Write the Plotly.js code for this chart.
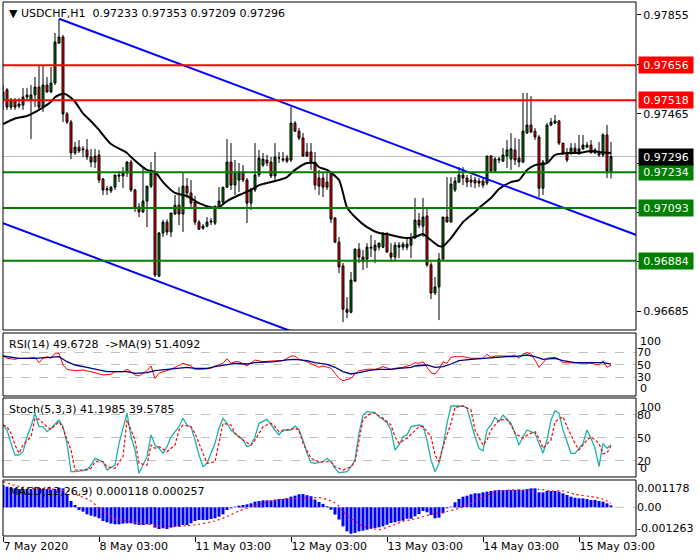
<!DOCTYPE html>
<html><head><meta charset="utf-8">
<script src="https://cdn.plot.ly/plotly-3.0.1.min.js"></script>
<style>html,body{margin:0;padding:0;background:#fff}#chart{width:700px;height:560px}</style>
</head><body><div id="chart"></div>
<script>
// ---------- data (USDCHF H1) ----------
const tickIdx = [0, 24, 48, 72, 96, 120, 144];
const tickText = ['7 May 2020', '8 May 03:00', '11 May 03:00', '12 May 03:00', '13 May 03:00', '14 May 03:00', '15 May 03:00'];

const opens = [
0.97519,0.97559,0.97491,0.97515,0.97495,0.97499,0.97531,0.97519,0.97539,0.97570,
0.97491,0.97578,0.97551,0.97586,0.97744,0.97768,0.97464,0.97432,0.97310,0.97333,
0.97322,0.97322,0.97294,0.97274,0.97302,0.97207,0.97164,0.97160,0.97175,0.97223,
0.97219,0.97231,0.97274,0.97164,0.97097,0.97077,0.97120,0.97179,0.97231,0.96824,
0.96994,0.97037,0.96998,0.97069,0.97104,0.97069,0.97179,0.97152,0.97116,0.97037,
0.97013,0.97021,0.97037,0.97033,0.97097,0.97116,0.97175,0.97274,0.97183,0.97203,
0.97235,0.97203,0.97112,0.97164,0.97223,0.97262,0.97282,0.97274,0.97219,0.97290,
0.97282,0.97290,0.97282,0.97428,0.97396,0.97369,0.97314,0.97314,0.97274,0.97211,
0.97211,0.97195,0.97231,0.97053,0.96958,0.96864,0.96693,0.96681,0.96804,0.96930,
0.96899,0.96891,0.96934,0.96926,0.96938,0.96938,0.96990,0.96915,0.96899,0.96938,
0.96938,0.96938,0.96946,0.96974,0.97045,0.97021,0.97061,0.96868,0.96757,0.96781,
0.96891,0.97057,0.97037,0.97164,0.97195,0.97223,0.97211,0.97203,0.97203,0.97199,
0.97199,0.97191,0.97298,0.97239,0.97282,0.97278,0.97298,0.97286,0.97322,0.97290,
0.97274,0.97389,0.97420,0.97396,0.97373,0.97171,0.97274,0.97420,0.97428,0.97436,
0.97349,0.97310,0.97310,0.97329,0.97314,0.97326,0.97333,0.97341,0.97310,0.97314,
0.97302,0.97381,0.97233];
const highs = [
0.97578,0.97566,0.97527,0.97527,0.97527,0.97566,0.97566,0.97578,0.97610,0.97657,
0.97657,0.97610,0.97649,0.97784,0.97839,0.97776,0.97472,0.97440,0.97353,0.97361,
0.97337,0.97365,0.97326,0.97326,0.97322,0.97211,0.97179,0.97179,0.97223,0.97238,
0.97254,0.97278,0.97282,0.97168,0.97112,0.97254,0.97179,0.97274,0.97314,0.96998,
0.97045,0.97048,0.97073,0.97144,0.97175,0.97231,0.97211,0.97203,0.97140,0.97045,
0.97029,0.97057,0.97053,0.97104,0.97175,0.97175,0.97365,0.97349,0.97282,0.97270,
0.97262,0.97211,0.97171,0.97349,0.97322,0.97310,0.97302,0.97294,0.97349,0.97314,
0.97314,0.97302,0.97491,0.97436,0.97408,0.97389,0.97349,0.97349,0.97314,0.97243,
0.97235,0.97231,0.97235,0.97057,0.96978,0.96876,0.96741,0.96840,0.96934,0.96954,
0.96927,0.96954,0.96986,0.96966,0.96954,0.96994,0.96998,0.96954,0.96958,0.96958,
0.96958,0.96978,0.96994,0.97132,0.97073,0.97132,0.97097,0.96879,0.96820,0.96915,
0.97057,0.97215,0.97215,0.97215,0.97254,0.97254,0.97223,0.97223,0.97215,0.97211,
0.97211,0.97298,0.97302,0.97294,0.97294,0.97329,0.97361,0.97388,0.97369,0.97365,
0.97547,0.97547,0.97535,0.97408,0.97381,0.97282,0.97428,0.97448,0.97460,0.97440,
0.97349,0.97329,0.97349,0.97349,0.97381,0.97381,0.97353,0.97361,0.97329,0.97353,
0.97388,0.97420,0.97353];
const lows = [
0.97480,0.97480,0.97480,0.97480,0.97487,0.97480,0.97519,0.97365,0.97491,0.97480,
0.97472,0.97547,0.97547,0.97578,0.97740,0.97432,0.97424,0.97286,0.97302,0.97310,
0.97294,0.97282,0.97254,0.97250,0.97191,0.97144,0.97144,0.97152,0.97164,0.97195,
0.97171,0.97215,0.97156,0.97077,0.97057,0.97073,0.97017,0.97171,0.96820,0.96820,
0.96978,0.96985,0.96978,0.97065,0.97025,0.96998,0.97132,0.97097,0.97025,0.97006,
0.97006,0.97017,0.97025,0.97025,0.97093,0.97104,0.97171,0.97164,0.97144,0.97156,
0.97195,0.97033,0.97085,0.97156,0.97215,0.97254,0.97258,0.97211,0.97195,0.97270,
0.97274,0.97270,0.97274,0.97393,0.97361,0.97294,0.97294,0.97243,0.97164,0.97144,
0.97136,0.97164,0.97033,0.96954,0.96836,0.96642,0.96658,0.96677,0.96800,0.96875,
0.96848,0.96856,0.96899,0.96875,0.96926,0.96934,0.96915,0.96879,0.96887,0.96895,
0.96926,0.96926,0.96895,0.96970,0.97013,0.96978,0.96860,0.96733,0.96749,0.96650,
0.96887,0.97037,0.97037,0.97156,0.97191,0.97183,0.97175,0.97175,0.97171,0.97175,
0.97171,0.97183,0.97235,0.97235,0.97270,0.97274,0.97250,0.97243,0.97262,0.97254,
0.97270,0.97385,0.97389,0.97361,0.97136,0.97144,0.97270,0.97416,0.97424,0.97341,
0.97302,0.97274,0.97302,0.97310,0.97302,0.97322,0.97329,0.97310,0.97306,0.97294,
0.97294,0.97211,0.97209];
const closes = [
0.97551,0.97491,0.97519,0.97491,0.97503,0.97531,0.97539,0.97539,0.97570,0.97491,
0.97578,0.97551,0.97586,0.97748,0.97768,0.97464,0.97432,0.97310,0.97333,0.97318,
0.97326,0.97294,0.97274,0.97298,0.97203,0.97164,0.97168,0.97175,0.97223,0.97219,
0.97231,0.97274,0.97164,0.97093,0.97077,0.97120,0.97179,0.97231,0.96828,0.96994,
0.97037,0.96998,0.97073,0.97104,0.97069,0.97179,0.97152,0.97112,0.97037,0.97009,
0.97021,0.97037,0.97041,0.97097,0.97120,0.97175,0.97274,0.97183,0.97231,0.97235,
0.97203,0.97112,0.97168,0.97223,0.97290,0.97286,0.97270,0.97219,0.97294,0.97290,
0.97286,0.97278,0.97428,0.97396,0.97369,0.97298,0.97298,0.97274,0.97183,0.97179,
0.97175,0.97175,0.97049,0.96958,0.96860,0.96693,0.96681,0.96808,0.96930,0.96899,
0.96887,0.96938,0.96938,0.96946,0.96954,0.96994,0.96919,0.96899,0.96946,0.96946,
0.96950,0.96950,0.96970,0.97045,0.97025,0.97057,0.96868,0.96757,0.96781,0.96891,
0.97057,0.97037,0.97187,0.97199,0.97223,0.97211,0.97195,0.97195,0.97191,0.97191,
0.97183,0.97298,0.97239,0.97286,0.97286,0.97302,0.97322,0.97326,0.97282,0.97274,
0.97396,0.97420,0.97393,0.97373,0.97171,0.97274,0.97420,0.97432,0.97436,0.97349,
0.97310,0.97282,0.97329,0.97314,0.97326,0.97341,0.97341,0.97310,0.97322,0.97302,
0.97381,0.97239,0.97296];

// moving average on price, read as [bar, value]
const maPoints = [[0,0.97424],[3,0.97446],[6,0.97456],[9,0.97480],[12,0.97512],[13,0.97530],[15,0.97545],[16,0.97539],[18,0.97512],[20,0.97466],[22,0.97435],[24,0.97401],[27,0.97345],[31,0.97310],[32,0.97294],[36,0.97243],[38,0.97235],[40,0.97195],[43,0.97152],[46,0.97140],[49,0.97112],[52,0.97096],[54,0.97096],[56,0.97120],[59,0.97144],[62,0.97164],[64,0.97183],[68,0.97199],[71,0.97215],[73,0.97243],[76,0.97270],[78,0.97270],[79,0.97254],[81,0.97243],[84,0.97203],[86,0.97096],[88,0.97057],[91,0.97017],[94,0.96994],[96,0.96990],[99,0.96978],[101,0.96974],[103,0.96978],[105,0.96990],[106,0.96978],[109,0.96942],[110,0.96942],[112,0.96974],[115,0.97037],[118,0.97077],[119,0.97093],[122,0.97132],[124,0.97168],[127,0.97195],[129,0.97203],[131,0.97243],[133,0.97262],[136,0.97270],[138,0.97302],[141,0.97310],[144,0.97310],[147,0.97318],[149,0.97314],[152,0.97310]];

// hand-drawn objects
const channelUpper = [[14, 0.97840], [160, 0.96976]];
const channelLower = [[0, 0.97033], [80, 0.96559]];
const resistanceLevels = [0.97656, 0.97518];
const supportLevels = [0.97234, 0.97093, 0.96884];
const lastPrice = 0.97296;
const priceTicks = [0.97855, 0.97660, 0.97465, 0.97270, 0.97075, 0.96880, 0.96685];
const priceTickText = ['0.97855', '', '0.97465', '', '', '', '0.96685'];

// RSI(14) and MA(9)
const rsiPoints = [[0,64.5],[1,60.8],[3,59.2],[4,60.8],[6,60.8],[8,62.4],[9,53.7],[10,60.8],[11,63.4],[12,60.8],[13,68.9],[14,69.0],[15,50.0],[16,43.1],[17,41.9],[18,40.8],[20,41.9],[22,39.2],[23,37.6],[25,33.9],[27,35.0],[28,39.2],[30,39.2],[31,43.1],[32,39.2],[33,33.9],[34,32.3],[36,40.8],[37,48.4],[38,28.5],[39,36.6],[40,39.2],[42,43.1],[43,46.3],[45,52.7],[47,48.4],[48,43.1],[50,43.1],[52,44.7],[53,48.4],[55,52.7],[56,60.2],[57,52.7],[58,55.3],[59,55.3],[61,48.4],[62,52.7],[63,58.1],[65,55.3],[67,56.9],[68,56.9],[70,56.9],[72,64.5],[73,64.5],[74,59.2],[76,55.3],[78,50.0],[79,46.3],[80,48.4],[82,44.7],[83,36.6],[84,28.5],[85,24.7],[87,28.5],[88,35.5],[89,40.8],[91,43.1],[93,43.1],[94,44.7],[95,47.3],[97,43.1],[98,44.7],[100,46.3],[102,50.0],[103,53.7],[104,52.7],[105,55.3],[106,47.3],[107,37.6],[108,35.5],[109,43.1],[110,55.3],[111,52.7],[112,62.4],[113,63.4],[115,63.4],[117,60.8],[118,60.8],[120,60.8],[121,67.3],[122,62.4],[123,64.5],[127,64.5],[128,66.1],[129,60.8],[130,67.7],[131,69.8],[132,67.7],[133,58.1],[134,46.3],[135,52.7],[136,60.8],[138,62.4],[139,59.2],[140,53.7],[142,53.7],[143,53.7],[145,53.7],[147,52.7],[149,50.0],[150,56.9],[151,46.3],[152,49.67]];
const rsiMaPoints = [[0,64.5],[4,60.8],[8,60.8],[12,62.4],[14,63.4],[16,55.3],[18,50.0],[21,46.3],[23,43.1],[26,39.2],[28,39.2],[31,39.2],[33,36.6],[36,37.6],[38,40.8],[41,43.1],[43,44.7],[46,46.3],[48,44.7],[51,44.7],[53,47.3],[56,50.0],[58,52.7],[61,51.6],[63,53.7],[66,54.8],[68,55.3],[71,58.1],[73,59.2],[76,56.9],[78,53.7],[81,51.1],[83,46.3],[85,39.2],[87,35.5],[89,37.6],[92,41.9],[94,43.1],[97,43.1],[99,44.7],[102,46.3],[103,48.4],[106,50.0],[108,46.3],[110,47.3],[112,51.6],[114,56.9],[117,59.2],[120,60.8],[123,62.4],[126,63.4],[128,63.4],[131,66.1],[133,63.4],[135,59.2],[138,60.8],[140,56.9],[143,53.7],[145,53.7],[148,53.7],[150,53.7],[152,51.41]];

// Stochastic(5,3,3): %K and %D
const stochKPoints = [[0,66.9],[1,60.4],[2,43.0],[3,27.8],[4,27.8],[5,32.1],[6,51.6],[7,65.0],[8,82.2],[9,64.7],[10,64.7],[11,58.2],[12,62.6],[14,73.4],[15,64.7],[16,43.0],[17,6.0],[18,6.0],[21,8.2],[22,14.7],[23,23.5],[25,19.0],[26,8.2],[28,14.7],[29,43.0],[31,82.2],[32,51.6],[33,34.3],[34,3.9],[36,25.6],[37,53.9],[38,40.8],[39,36.5],[40,30.0],[41,38.6],[42,51.6],[44,64.7],[45,75.6],[46,66.9],[47,64.7],[48,47.3],[49,27.8],[50,12.5],[51,17.0],[53,43.0],[54,62.6],[55,75.6],[56,69.1],[57,60.4],[59,51.6],[60,47.3],[61,38.6],[62,40.8],[63,51.6],[64,69.1],[66,74.3],[67,66.9],[68,60.4],[69,53.9],[70,60.4],[72,60.4],[73,65.6],[74,60.4],[75,47.3],[76,30.0],[77,17.7],[78,17.0],[80,19.0],[81,23.5],[82,19.0],[83,10.4],[84,4.7],[86,6.0],[87,12.5],[88,21.3],[89,56.1],[90,79.9],[91,84.2],[93,82.9],[94,77.7],[95,74.0],[96,69.9],[97,60.4],[98,34.3],[99,40.8],[100,51.6],[101,53.9],[102,64.7],[104,66.9],[105,65.6],[106,47.3],[107,21.3],[108,6.0],[109,17.0],[110,38.6],[111,69.1],[112,91.7],[113,91.7],[115,91.7],[116,88.7],[117,69.1],[118,51.6],[119,36.5],[120,33.4],[121,60.4],[122,66.9],[123,76.9],[124,71.2],[125,79.9],[126,74.3],[127,69.1],[128,56.1],[129,40.8],[130,51.6],[131,60.4],[133,56.1],[134,43.0],[135,30.0],[136,47.3],[137,73.4],[138,85.5],[139,82.2],[140,60.4],[142,30.0],[143,30.0],[145,43.0],[146,60.4],[147,49.6],[148,36.5],[149,12.5],[150,43.0],[151,36.5],[152,41.2]];
const stochDPoints = [[0,66.9],[1,64.7],[2,56.1],[3,40.8],[4,30.0],[5,40.8],[7,51.6],[8,75.6],[9,74.3],[11,64.7],[12,61.3],[13,66.9],[14,71.2],[15,62.6],[17,34.3],[18,8.2],[20,8.2],[22,10.4],[23,19.0],[25,19.0],[26,12.5],[28,10.4],[30,25.6],[31,73.4],[33,47.3],[34,17.0],[36,14.7],[37,40.8],[38,36.5],[39,38.6],[41,32.1],[43,40.8],[44,60.4],[45,66.9],[47,64.7],[48,56.1],[50,30.0],[51,17.0],[53,19.0],[54,43.0],[55,69.1],[57,66.9],[58,56.1],[60,47.3],[62,40.8],[63,47.3],[65,64.7],[67,69.1],[68,64.7],[69,58.2],[71,60.4],[73,62.6],[74,60.4],[75,43.0],[77,23.5],[79,19.0],[80,19.0],[82,19.0],[83,12.5],[85,8.2],[86,10.4],[87,12.5],[88,19.0],[89,47.3],[90,74.3],[92,82.2],[93,82.2],[95,75.6],[97,66.9],[98,51.6],[99,43.0],[101,49.6],[103,60.4],[104,64.7],[105,64.7],[107,51.6],[108,27.8],[109,19.0],[110,38.6],[112,69.1],[113,90.0],[115,91.7],[117,86.5],[118,60.4],[120,40.8],[121,47.3],[122,60.4],[124,73.4],[126,74.3],[127,66.9],[128,56.1],[130,49.6],[131,53.9],[133,58.2],[134,49.6],[135,36.5],[137,47.3],[138,71.2],[140,77.7],[141,64.7],[143,43.0],[144,34.3],[146,47.3],[147,51.6],[149,43.0],[150,29.1],[151,30.8],[152,39.58]];

// MACD(12,26,9): histogram per bar and signal
const macdHist = [
0.001385,0.001282,0.001220,0.001178,0.001137,0.001137,0.001137,0.001137,0.001178,0.001178,
0.001137,0.001137,0.001075,0.001137,0.001220,0.001178,0.000806,0.000393,0.000145,-0.000165,
-0.000269,-0.000434,-0.000517,-0.000579,-0.000682,-0.000847,-0.000930,-0.001013,-0.001054,-0.001054,
-0.001013,-0.000992,-0.000992,-0.001054,-0.001096,-0.001096,-0.001054,-0.001054,-0.001261,-0.001344,
-0.001302,-0.001344,-0.001261,-0.001199,-0.001199,-0.001096,-0.001096,-0.000992,-0.000847,-0.000785,
-0.000785,-0.000785,-0.000723,-0.000682,-0.000579,-0.000434,-0.000165,-0.000062,0.000041,0.000103,
0.000145,0.000186,0.000248,0.000351,0.000393,0.000434,0.000434,0.000434,0.000475,0.000517,
0.000517,0.000558,0.000661,0.000723,0.000806,0.000820,0.000750,0.000690,0.000480,0.000330,
0.000210,0.000060,-0.000150,-0.000450,-0.000760,-0.001180,-0.001490,-0.001640,-0.001590,-0.001490,
-0.001450,-0.001390,-0.001330,-0.001280,-0.001240,-0.001180,-0.001080,-0.000970,-0.000930,-0.000870,
-0.000830,-0.000710,-0.000710,-0.000560,-0.000420,-0.000227,-0.000310,-0.000475,-0.000682,-0.000641,
-0.000372,-0.000062,0.000041,0.000310,0.000517,0.000661,0.000723,0.000806,0.000868,0.000868,
0.000930,0.000971,0.001013,0.001054,0.001075,0.001075,0.001075,0.001075,0.001075,0.001096,
0.001075,0.001137,0.001178,0.001178,0.000930,0.000930,0.001013,0.001013,0.001013,0.000971,
0.000868,0.000764,0.000661,0.000599,0.000558,0.000558,0.000517,0.000455,0.000455,0.000393,
0.000351,0.000248,0.000118];
const macdSignalPoints = [[0,0.00159],[2,0.001426],[4,0.001282],[8,0.001178],[12,0.001137],[16,0.001013],[19,0.000723],[22,0.000393],[24,-0.000062],[27,-0.000579],[29,-0.000785],[33,-0.00093],[36,-0.001054],[39,-0.001137],[43,-0.001199],[46,-0.001137],[49,-0.001054],[53,-0.000847],[56,-0.000579],[59,-0.000227],[63,0.000103],[66,0.00031],[69,0.000475],[73,0.000558],[76,0.000599],[79,0.000599],[81,0.00049],[83,0.00028],[84,0.00006],[85,-0.00025],[86,-0.00054],[88,-0.00085],[90,-0.00118],[92,-0.00128],[94,-0.00139],[96,-0.00124],[98,-0.00107],[100,-0.00087],[102,-0.00077],[104,-0.00066],[107,-0.000434],[110,-0.00031],[114,-0.000062],[117,0.000248],[120,0.000661],[123,0.00093],[127,0.001075],[130,0.001075],[134,0.001116],[137,0.001013],[140,0.001013],[143,0.000806],[147,0.000661],[150,0.000517],[152,0.000257]];

// ---------- drawing ----------
const FONT = 'DejaVu Sans, Verdana, sans-serif';
const bars = closes.map((_, i) => i);
const px = a => a.map(p => p[0]);
const py = a => a.map(p => p[1]);

const D_MAIN = [0.38577, 1], D_RSI = [0.26217, 0.38015], D_STO = [0.11049, 0.25843], D_MACD = [0, 0.10487];

const traces = [
  {type:'candlestick', x:bars, open:opens, high:highs, low:lows, close:closes, xaxis:'x', yaxis:'y',
   increasing:{line:{color:'#000000', width:1}, fillcolor:'#008000'},
   decreasing:{line:{color:'#000000', width:1}, fillcolor:'#ff0000'},
   whiskerwidth:0, hoverinfo:'skip'},
  {type:'scatter', mode:'lines', x:px(maPoints), y:py(maPoints), xaxis:'x', yaxis:'y',
   line:{color:'#000000', width:2, shape:'spline', smoothing:0.6}, hoverinfo:'skip'},
  {type:'scatter', mode:'lines', x:px(channelUpper), y:py(channelUpper), xaxis:'x', yaxis:'y',
   line:{color:'#0000ff', width:2}, hoverinfo:'skip'},
  {type:'scatter', mode:'lines', x:px(channelLower), y:py(channelLower), xaxis:'x', yaxis:'y',
   line:{color:'#0000ff', width:2}, hoverinfo:'skip'},
  {type:'scatter', mode:'lines', x:px(rsiPoints), y:py(rsiPoints), xaxis:'x', yaxis:'y2',
   line:{color:'#ff0000', width:1}, hoverinfo:'skip'},
  {type:'scatter', mode:'lines', x:px(rsiMaPoints), y:py(rsiMaPoints), xaxis:'x', yaxis:'y2',
   line:{color:'#000080', width:1.3}, hoverinfo:'skip'},
  {type:'scatter', mode:'lines', x:px(stochKPoints), y:py(stochKPoints), xaxis:'x', yaxis:'y3',
   line:{color:'#20b2aa', width:1.3}, hoverinfo:'skip'},
  {type:'scatter', mode:'lines', x:px(stochDPoints), y:py(stochDPoints), xaxis:'x', yaxis:'y3',
   line:{color:'#ff0000', width:1.2, dash:'3px,2px'}, hoverinfo:'skip'},
  {type:'bar', x:bars, y:macdHist, xaxis:'x', yaxis:'y4', width:0.75,
   marker:{color:'#0000ff', line:{width:0}}, hoverinfo:'skip'},
  {type:'scatter', mode:'lines', x:px(macdSignalPoints), y:py(macdSignalPoints), xaxis:'x', yaxis:'y4',
   line:{color:'#ff0000', width:1.2, dash:'2px,3px', shape:'spline', smoothing:0.5}, hoverinfo:'skip'}
];

const shapes = [];
resistanceLevels.forEach(v => shapes.push({type:'line', xref:'paper', x0:0, x1:1, yref:'y', y0:v, y1:v, line:{color:'#ff0000', width:2}, layer:'above'}));
supportLevels.forEach(v => shapes.push({type:'line', xref:'paper', x0:0, x1:1, yref:'y', y0:v, y1:v, line:{color:'#008000', width:2}, layer:'above'}));
shapes.push({type:'line', xref:'paper', x0:0, x1:1, yref:'y', y0:lastPrice, y1:lastPrice, line:{color:'#c0c0c0', width:1}, layer:'below'});
shapes.push({type:'line', xref:'paper', x0:0, x1:1, yref:'y4', y0:0, y1:0, line:{color:'#c0c0c0', width:1, dash:'dash'}, layer:'below'});
[D_MAIN, D_RSI, D_STO, D_MACD].forEach(d => shapes.push({type:'rect', xref:'paper', yref:'paper', x0:0, x1:1, y0:d[0], y1:d[1], line:{color:'#000000', width:1}, fillcolor:'rgba(0,0,0,0)', layer:'above'}));

const boxAnn = (v, bg) => ({xref:'paper', x:1, xanchor:'left', xshift:2, yref:'y', y:v, yanchor:'middle',
  text:v.toFixed(5), showarrow:false, bgcolor:bg, font:{family:FONT, size:11, color:'#ffffff'}, borderpad:1, width:52, height:14});
const labelAnn = (text, yTop, shift) => ({xref:'paper', x:0, xanchor:'left', xshift:4, yref:'paper', y:yTop, yanchor:'top', yshift:shift,
  text:text, showarrow:false, font:{family:FONT, size:11, color:'#000000'}, align:'left'});
const edgeAnn = (text, yref, v, anchor) => ({xref:'paper', x:1, xanchor:'left', xshift:3, yref:yref, y:v, yanchor:anchor,
  text:text, showarrow:false, font:{family:FONT, size:11, color:'#000000'}, borderpad:0});

const annotations = [
  labelAnn('\u25BC USDCHF,H1\u00A0 0.97233 0.97353 0.97209 0.97296', 1, -3),
  labelAnn('RSI(14) 49.6728\u00A0 ->MA(9) 51.4092', D_RSI[1], -3),
  labelAnn('Stoch(5,3,3) 41.1985 39.5785', D_STO[1], -3),
  labelAnn('MACD(12,26,9) 0.000118 0.000257', D_MACD[1], -3),
  ...resistanceLevels.map(v => boxAnn(v, '#ff0000')),
  ...supportLevels.map(v => boxAnn(v, '#008000')),
  boxAnn(lastPrice, '#000000'),
  edgeAnn('100', 'y2', 100, 'top'), edgeAnn('0', 'y2', 0, 'bottom'),
  edgeAnn('100', 'y3', 100, 'top'), edgeAnn('0', 'y3', 0, 'bottom')
];

const axFont = {family:FONT, size:11, color:'#000000'};
const layout = {
  width:700, height:560, margin:{l:3, r:64, t:2, b:24},
  paper_bgcolor:'#ffffff', plot_bgcolor:'#ffffff', showlegend:false,
  font:{family:FONT, size:11, color:'#000000'},
  xaxis:{range:[0, 158.25], anchor:'y4', tickvals:tickIdx, ticktext:tickText, ticks:'outside', ticklen:5,
         tickcolor:'#000000', ticklabelposition:'outside right', showgrid:false, zeroline:false, showline:false,
         rangeslider:{visible:false}, tickfont:axFont},
  yaxis:{domain:D_MAIN, range:[0.96611, 0.97906], side:'right', anchor:'x', tickvals:priceTicks, ticktext:priceTickText,
         ticks:'outside', ticklen:4, tickcolor:'#000000', showgrid:false, zeroline:false, tickfont:axFont},
  yaxis2:{domain:D_RSI, range:[0, 101.6], side:'right', anchor:'x', tickvals:[70, 50, 30], ticks:'',
          showgrid:true, gridcolor:'#c0c0c0', griddash:'dash', gridwidth:1, zeroline:false, tickfont:axFont},
  yaxis3:{domain:D_STO, range:[-0.9, 102.1], side:'right', anchor:'x', tickvals:[80, 50, 20], ticks:'',
          showgrid:true, gridcolor:'#c0c0c0', griddash:'dash', gridwidth:1, zeroline:false, tickfont:axFont},
  yaxis4:{domain:D_MACD, range:[-0.001779, 0.001693], side:'right', anchor:'x', tickvals:[0.001178, 0, -0.001263],
          ticktext:['0.001178', '0.00', '-0.001263'], ticks:'', showgrid:false, zeroline:false, tickfont:axFont},
  shapes:shapes, annotations:annotations, bargap:0.25
};

Plotly.newPlot('chart', traces, layout, {staticPlot:true, displayModeBar:false});
</script></body></html>
